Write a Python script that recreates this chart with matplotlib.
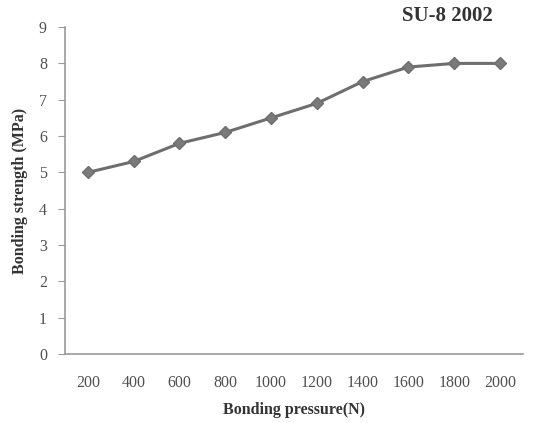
import numpy as np
import matplotlib.pyplot as plt

# data
pressures = ['200', '400', '600', '800', '1000', '1200', '1400', '1600', '1800', '2000']
strength = [5.0, 5.3, 5.8, 6.1, 6.5, 6.9, 7.5, 7.9, 8.0, 8.0]

plt.rcParams['font.family'] = ['Liberation Serif', 'DejaVu Serif']

fig = plt.figure(figsize=(5.33, 4.23), dpi=100)
ax = fig.add_axes([0.122, 0.163, 0.859, 0.773])

x = np.arange(len(pressures))
ax.plot(x, strength, color='#6e6e6e', lw=2.2, marker='D', ms=6,
        markerfacecolor='#7a7a7a', markeredgecolor='#6e6e6e')

ax.set_xlim(-0.5, len(pressures) - 0.5)
ax.set_ylim(0, 9)
ax.set_yticks(range(0, 10))
ax.set_xticks(x)
ax.set_xticklabels(pressures)

for s in ['top', 'right']:
    ax.spines[s].set_visible(False)
for s in ['left', 'bottom']:
    ax.spines[s].set_color('#9a9a9a')
    ax.spines[s].set_linewidth(1.2)

ax.tick_params(axis='y', colors='#9a9a9a', labelcolor='#505050', labelsize=11.5, length=5, pad=8)
ax.tick_params(axis='x', length=0, labelcolor='#505050', labelsize=11.5, pad=15)

ax.set_xlabel('Bonding pressure(N)', fontweight='bold', fontsize=11.5, color='#333333', labelpad=8)
ax.set_ylabel('Bonding strength (MPa)', fontweight='bold', fontsize=11.5, color='#333333', labelpad=8)

fig.text(0.84, 0.962, 'SU-8 2002', fontweight='bold', fontsize=15, color='#333333',
         ha='center', va='center')

fig.savefig('out.png', dpi=100)
